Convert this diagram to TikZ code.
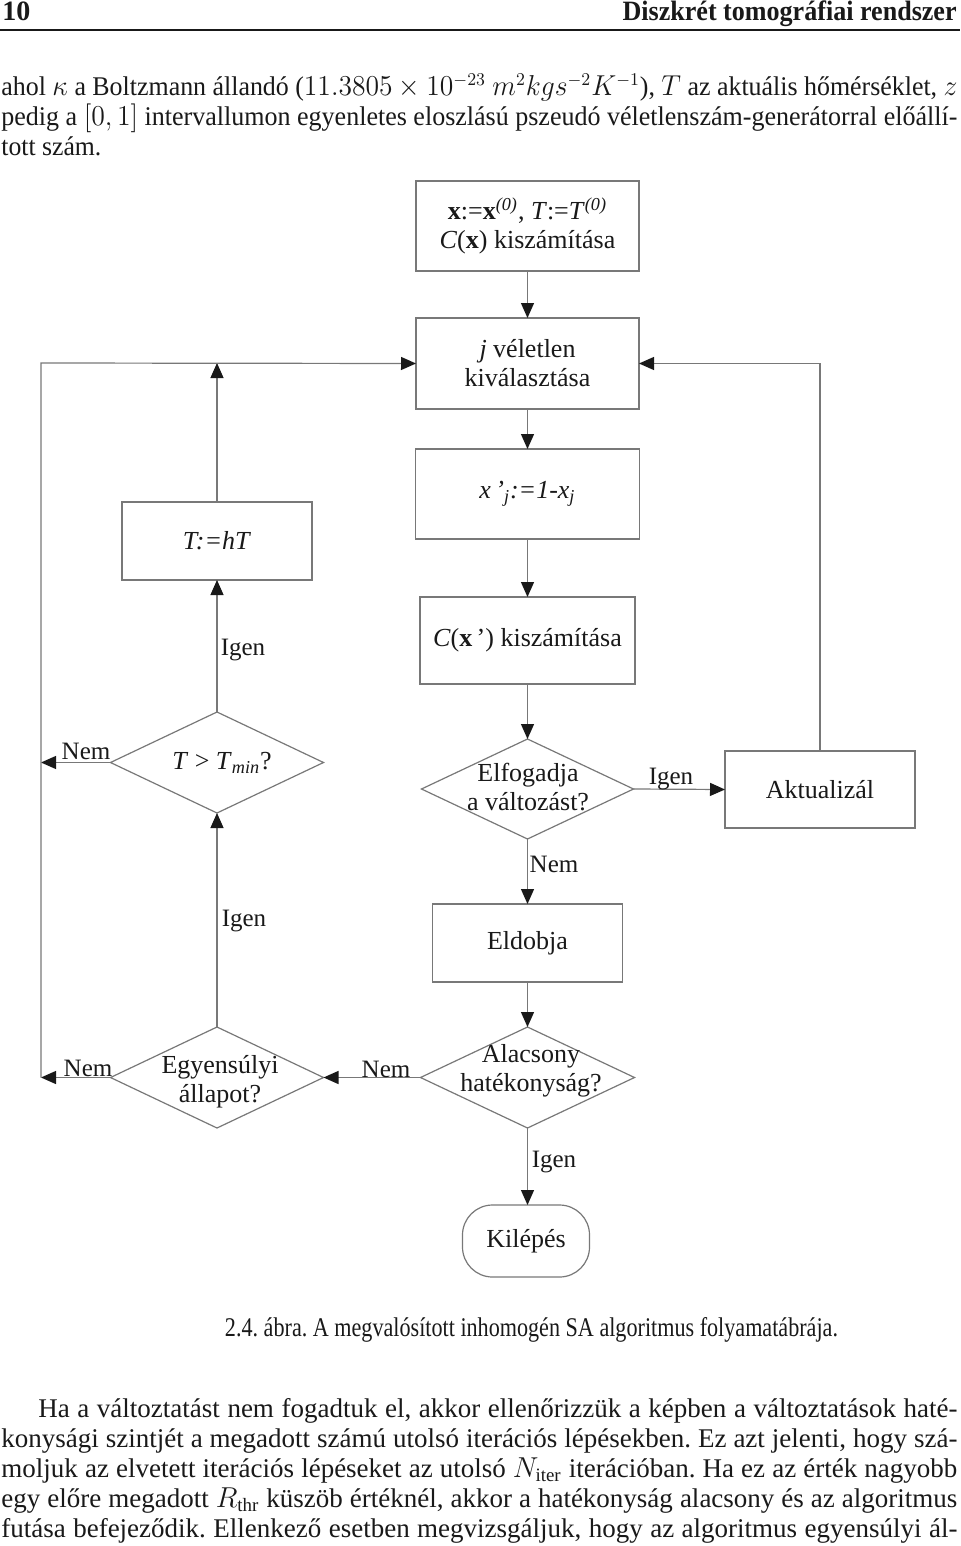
\documentclass[tikz,border=0pt]{standalone}
\usepackage{fontspec}
\setmainfont{Liberation Serif}
\usepackage{amsmath}
\usepackage{graphicx}
\usetikzlibrary{arrows.meta,shapes.geometric}
\definecolor{fl}{RGB}{120,120,120}
\definecolor{ink}{RGB}{25,25,25}
\frenchspacing
\newsavebox\jbox
\newcommand\jline[2]{\sbox\jbox{#2}\ifdim\wd\jbox>#1\relax\resizebox{#1}{\height}{\usebox\jbox}\else\makebox[#1][s]{#2}\fi}
\begin{document}
\begin{tikzpicture}[x=0.5pt,y=-0.5pt,
  box/.style={draw=fl, line width=0.6pt, inner sep=0pt, outer sep=0pt, text=ink, font=\fontsize{13}{14.5}\selectfont, align=center},
  dia/.style={diamond, draw=fl, line width=0.6pt, inner sep=0pt, outer sep=0pt},
  txt/.style={text=ink, inner sep=0pt, font=\fontsize{13}{14.5}\selectfont, align=center},
  lab/.style={text=ink, inner sep=0pt, font=\fontsize{12.5}{14}\selectfont},
  flow/.style={draw=fl, line width=0.6pt, -{Triangle[length=7.5pt,width=6.5pt,color=ink]}},
  body/.style={text=ink, inner sep=0pt, font=\fontsize{13.5}{15}\selectfont}]
\useasboundingbox (0,0) rectangle (960,1546);
\fill[white] (0,0) rectangle (960,1546);

% header
\node[body, anchor=base west, font=\fontsize{14}{15}\selectfont\bfseries] (hdl) at (2,21) {10};
\node[body, anchor=base east, font=\fontsize{14}{15}\selectfont\bfseries] (hdr) at (957,21) {\resizebox{167pt}{\height}{Diszkrét tomográfiai rendszer}};
\coordinate (rl) at (0,30);
\coordinate (rr) at (960,30);
\draw[ink, line width=1pt] (rl) -- (rr);

% top paragraph
\node[body, anchor=base west] (p1) at (1,96) {\jline{478pt}{ahol $\kappa$ a Boltzmann állandó ($11.3805\times10^{-23}\ m^2kgs^{-2}K^{-1}$), $T$ az aktuális hőmérséklet, $z$}};
\node[body, anchor=base west] (p2) at (1,126) {\jline{478pt}{pedig a $[0,1]$ intervallumon egyenletes eloszlású pszeudó véletlenszám-generátorral előállí-}};
\node[body, anchor=base west] (p3) at (1,156) {\resizebox{50pt}{\height}{tott szám.}};

% flowchart boxes
\node[box, minimum width=111.5pt, minimum height=45pt] (b1) at (527.5,226)
  {\textbf{x}:=\textbf{x}\textsuperscript{\textit{(0)}}, \textit{T}:=\textit{T}\textsuperscript{\textit{(0)}}\\\textit{C}(\textbf{x}) kiszámítása};
\node[box, minimum width=111.5pt, minimum height=45.5pt] (b2) at (527.5,363.5)
  {\textit{j} véletlen\\kiválasztása};
\node[box, minimum width=112pt, minimum height=45pt] (b3) at (527.5,494)
  {\textit{x\,'}\textsubscript{\textit{j}}\textit{:=1-x}\textsubscript{\textit{j}}};
\node[box, minimum width=107.5pt, minimum height=43.5pt] (b4) at (527.5,640.5)
  {\textit{C}(\textbf{x}\,') kiszámítása};
\node[box, minimum width=95pt, minimum height=39pt] (hT) at (217,541) {\textit{T:=hT}};
\node[box, minimum width=95pt, minimum height=38.5pt] (akt) at (820,789.5) {Aktualizál};
\node[box, minimum width=95pt, minimum height=39pt] (eld) at (527.5,943) {Eldobja};
\node[box, minimum width=63.5pt, minimum height=36pt, rounded corners=15pt] (kil) at (526,1241) {Kilépés};

% diamonds
\node[dia, minimum width=106.5pt, minimum height=50.5pt] (dT) at (217,762.5) {};
\node[dia, minimum width=106pt, minimum height=50pt] (dE) at (527.5,789) {};
\node[dia, minimum width=106.5pt, minimum height=50.5pt] (dG) at (217,1077.5) {};
\node[dia, minimum width=107pt, minimum height=50.5pt] (dA) at (527.5,1077.5) {};
\node[txt] (tT) at (222,763) {\textit{T} > \textit{T}\textsubscript{\textit{min}}?};
\node[txt] (tE) at (528,787) {Elfogadja\\a változást?};
\node[txt] (tG) at (220,1082) {Egyensúlyi\\állapot?};
\node[txt] (tA) at (531,1071) {Alacsony\\hatékonyság?};

% helper coordinates
\coordinate (Ltop) at (41,363);
\coordinate (L1) at (41,762.5);
\coordinate (L2) at (41,1077.5);
\coordinate (Tj) at (217,363);

% connectors
\draw[flow] (b1.south) -- (b2.north);
\draw[flow] (b2.south) -- (b3.north);
\draw[flow] (b3.south) -- (b4.north);
\draw[flow] (b4.south) -- (dE.north);
\draw[flow] (dE.east) -- (akt.west);
\draw[flow] (akt.north) |- (b2.east);
\draw[flow] (dE.south) -- (eld.north);
\draw[flow] (eld.south) -- (dA.north);
\draw[flow] (dA.west) -- (dG.east);
\draw[flow] (dA.south) -- (dA.south |- kil.north);
\draw[flow] (dG.north) -- (dT.south);
\draw[flow] (dT.north) -- (hT.south);
\draw[flow] (hT.north) -- (Tj);
\draw[flow] (dT.west) -- (L1);
\draw[flow] (dG.west) -- (L2);
\draw[flow] (L2) -- (Ltop) -- (b2.west);

% labels
\node[lab] (l1) at (243,650) {Igen};
\node[lab] (l2) at (86,751) {Nem};
\node[lab] (l3) at (671,779) {Igen};
\node[lab] (l4) at (554,864) {Nem};
\node[lab] (l5) at (244,921) {Igen};
\node[lab] (l6) at (88,1068) {Nem};
\node[lab] (l7) at (386,1069) {Nem};
\node[lab] (l8) at (554,1162) {Igen};

% caption
\node[body, anchor=base] (cap) at (531.5,1336) {\resizebox{306.5pt}{\height}{2.4. ábra. A megvalósított inhomogén SA algoritmus folyamatábrája.}};

% bottom paragraph
\node[body, anchor=base west] (q1) at (38,1417) {\jline{459.5pt}{Ha a változtatást nem fogadtuk el, akkor ellenőrizzük a képben a változtatások haté-}};
\node[body, anchor=base west] (q2) at (1,1447) {\jline{478pt}{konysági szintjét a megadott számú utolsó iterációs lépésekben. Ez azt jelenti, hogy szá-}};
\node[body, anchor=base west] (q3) at (1,1477) {\jline{478pt}{moljuk az elvetett iterációs lépéseket az utolsó $N_{\text{iter}}$ iterációban. Ha ez az érték nagyobb}};
\node[body, anchor=base west] (q4) at (1,1507) {\jline{478pt}{egy előre megadott $R_{\text{thr}}$ küszöb értéknél, akkor a hatékonyság alacsony és az algoritmus}};
\node[body, anchor=base west] (q5) at (1,1537) {\jline{478pt}{futása befejeződik. Ellenkező esetben megvizsgáljuk, hogy az algoritmus egyensúlyi ál-}};
\end{tikzpicture}
\end{document}
